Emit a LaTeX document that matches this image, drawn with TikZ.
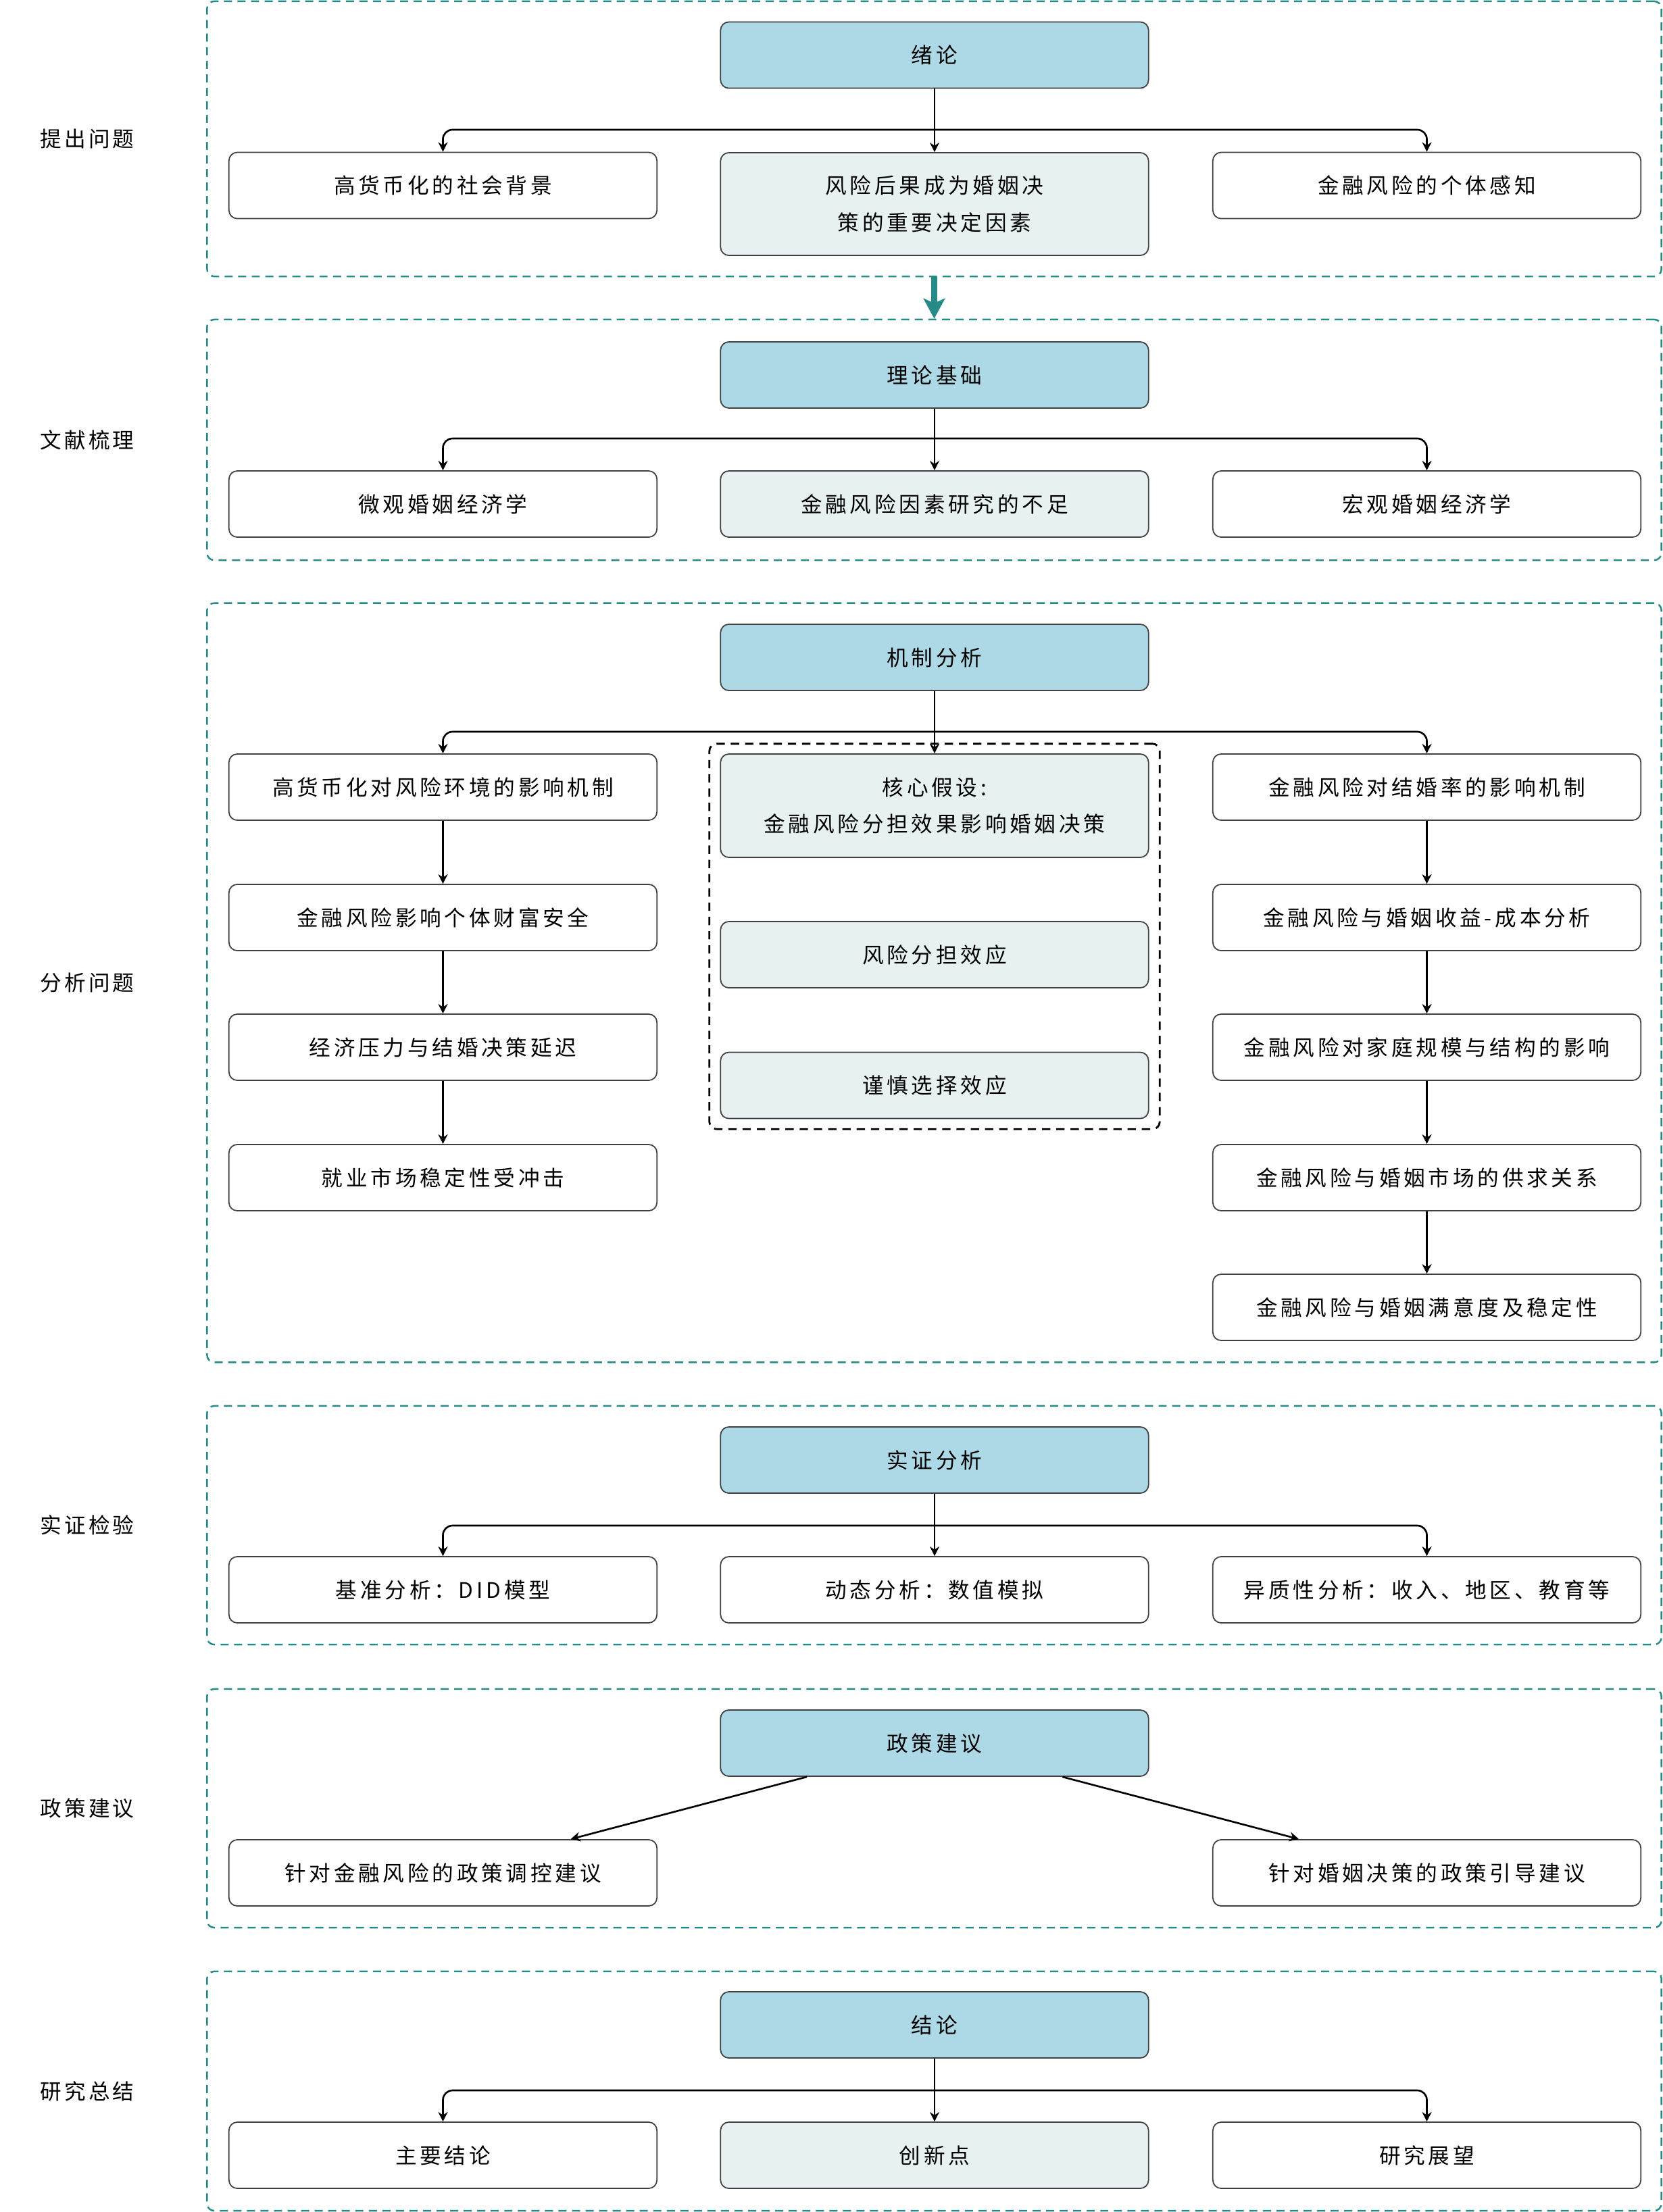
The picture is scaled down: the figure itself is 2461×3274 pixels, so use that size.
\documentclass[tikz,border=0pt]{standalone}
\usepackage{fontspec}
\newfontfamily\cjkbox[LetterSpace=15]{Noto Sans CJK SC}
\newfontfamily\cjklabel[LetterSpace=13]{Noto Sans CJK SC}
\usetikzlibrary{arrows.meta}

\definecolor{headblue}{RGB}{173,216,230}
\definecolor{corefill}{RGB}{232,241,242}
\definecolor{frameteal}{RGB}{38,138,135}

\tikzset{
    box/.style={draw=black!75, line width=0.5pt, rounded corners=3.5pt,
        minimum width=6.33cm, minimum height=0.98cm, inner sep=0pt,
        align=center, font=\cjkbox\fontsize{9}{15.6}\selectfont},
    headbox/.style={box, fill=headblue},
    corebox/.style={box, fill=corefill},
    stagebox/.style={draw=frameteal, line width=0.7pt, dash pattern=on 3.4pt off 2.3pt,
        rounded corners=3pt, minimum width=21.51cm, inner sep=0pt},
    groupbox/.style={draw=black, line width=0.8pt, dash pattern=on 3.5pt off 2.5pt,
        rounded corners=3pt, inner sep=0pt},
    stagelabel/.style={font=\cjklabel\fontsize{9}{11}\selectfont},
    conn/.style={line width=0.75pt, rounded corners=4pt,
        -{Stealth[length=4pt,width=4pt,inset=1.3pt]}},
    flow/.style={draw=frameteal, line width=2.8pt,
        -{Stealth[length=8.5pt,width=9pt,inset=2pt]}}
}

\begin{document}
\begin{tikzpicture}[x=0.01cm, y=-0.01cm]
    \useasboundingbox (0,0) rectangle (2461,3274);

    % Stages
    \node[stagebox, minimum height=4.07cm] (s1) at (1382.5,205.5) {};
    \node[stagebox, minimum height=3.56cm] (s2) at (1382.5,651) {};
    \node[stagebox, minimum height=11.23cm] (s3) at (1382.5,1454.5) {};
    \node[stagebox, minimum height=3.53cm] (s4) at (1382.5,2257.5) {};
    \node[stagebox, minimum height=3.53cm] (s5) at (1382.5,2676.5) {};
    \node[stagebox, minimum height=3.54cm] (s6) at (1382.5,3095) {};

    \node[stagelabel] (l1) at (129,205.5) {提出问题};
    \node[stagelabel] (l2) at (129,651) {文献梳理};
    \node[stagelabel] (l3) at (129,1454.5) {分析问题};
    \node[stagelabel] (l4) at (129,2257.5) {实证检验};
    \node[stagelabel] (l5) at (129,2676.5) {政策建议};
    \node[stagelabel] (l6) at (129,3095) {研究总结};

    \draw[flow] (s1.south) -- (s2.north);

    % Introduction
    \node[headbox] (intro) at (1383,81.5) {绪论};
    \node[box] (background) at (655.5,274.5) {高货币化的社会背景};
    \node[corebox, minimum height=1.52cm] (factor) at (1383,302) {风险后果成为婚姻决\\策的重要决定因素};
    \node[box] (perceive) at (2111.5,274.5) {金融风险的个体感知};
    \coordinate (j1) at (1383,192);

    \draw[conn] (intro) -- (factor);
    \draw[conn] (j1) -| (background);
    \draw[conn] (j1) -| (perceive);

    % Literature
    \node[headbox] (theory) at (1383,555) {理论基础};
    \node[box] (micro) at (655.5,746) {微观婚姻经济学};
    \node[corebox] (lack) at (1383,746) {金融风险因素研究的不足};
    \node[box] (macro) at (2111.5,746) {宏观婚姻经济学};
    \coordinate (j2) at (1383,649);

    \draw[conn] (theory) -- (lack);
    \draw[conn] (j2) -| (micro);
    \draw[conn] (j2) -| (macro);

    % Mechanism
    \node[headbox] (mech) at (1383,973) {机制分析};
    \coordinate (j3) at (1383,1083);

    \node[box] (a1) at (655.5,1165) {高货币化对风险环境的影响机制};
    \node[box] (a2) at (655.5,1358) {金融风险影响个体财富安全};
    \node[box] (a3) at (655.5,1550) {经济压力与结婚决策延迟};
    \node[box] (a4) at (655.5,1743) {就业市场稳定性受冲击};

    \node[groupbox, minimum width=6.66cm, minimum height=5.70cm] (hyp) at (1383,1386) {};
    \node[corebox, minimum height=1.53cm] (core) at (1383,1192.5) {核心假设:\\金融风险分担效果影响婚姻决策};
    \node[corebox] (share) at (1383,1413) {风险分担效应};
    \node[corebox] (prudent) at (1383,1606.5) {谨慎选择效应};

    \node[box] (b1) at (2111.5,1165) {金融风险对结婚率的影响机制};
    \node[box] (b2) at (2111.5,1358) {金融风险与婚姻收益-成本分析};
    \node[box] (b3) at (2111.5,1550) {金融风险对家庭规模与结构的影响};
    \node[box] (b4) at (2111.5,1743) {金融风险与婚姻市场的供求关系};
    \node[box] (b5) at (2111.5,1935) {金融风险与婚姻满意度及稳定性};

    \draw[conn] (mech) -- (core);
    \draw[conn] (j3) -| (a1);
    \draw[conn] (j3) -| (b1);
    \draw[conn] (a1) -- (a2);
    \draw[conn] (a2) -- (a3);
    \draw[conn] (a3) -- (a4);
    \draw[conn] (b1) -- (b2);
    \draw[conn] (b2) -- (b3);
    \draw[conn] (b3) -- (b4);
    \draw[conn] (b4) -- (b5);

    % Empirics
    \node[headbox] (empir) at (1383,2161) {实证分析};
    \node[box] (did) at (655.5,2353) {基准分析：DID模型};
    \node[box] (sim) at (1383,2353) {动态分析：数值模拟};
    \node[box] (hetero) at (2111.5,2353) {异质性分析：收入、地区、教育等};
    \coordinate (j4) at (1383,2258);

    \draw[conn] (empir) -- (sim);
    \draw[conn] (j4) -| (did);
    \draw[conn] (j4) -| (hetero);

    % Policy
    \node[headbox] (policy) at (1383,2580) {政策建议};
    \node[box] (regulate) at (655.5,2772) {针对金融风险的政策调控建议};
    \node[box] (guide) at (2111.5,2772) {针对婚姻决策的政策引导建议};

    \draw[conn] (policy) -- (regulate);
    \draw[conn] (policy) -- (guide);

    % Summary
    \node[headbox] (concl) at (1383,2997) {结论};
    \node[box] (mainres) at (655.5,3190) {主要结论};
    \node[corebox] (novel) at (1383,3190) {创新点};
    \node[box] (outlook) at (2111.5,3190) {研究展望};
    \coordinate (j6) at (1383,3094);

    \draw[conn] (concl) -- (novel);
    \draw[conn] (j6) -| (mainres);
    \draw[conn] (j6) -| (outlook);
\end{tikzpicture}
\end{document}
